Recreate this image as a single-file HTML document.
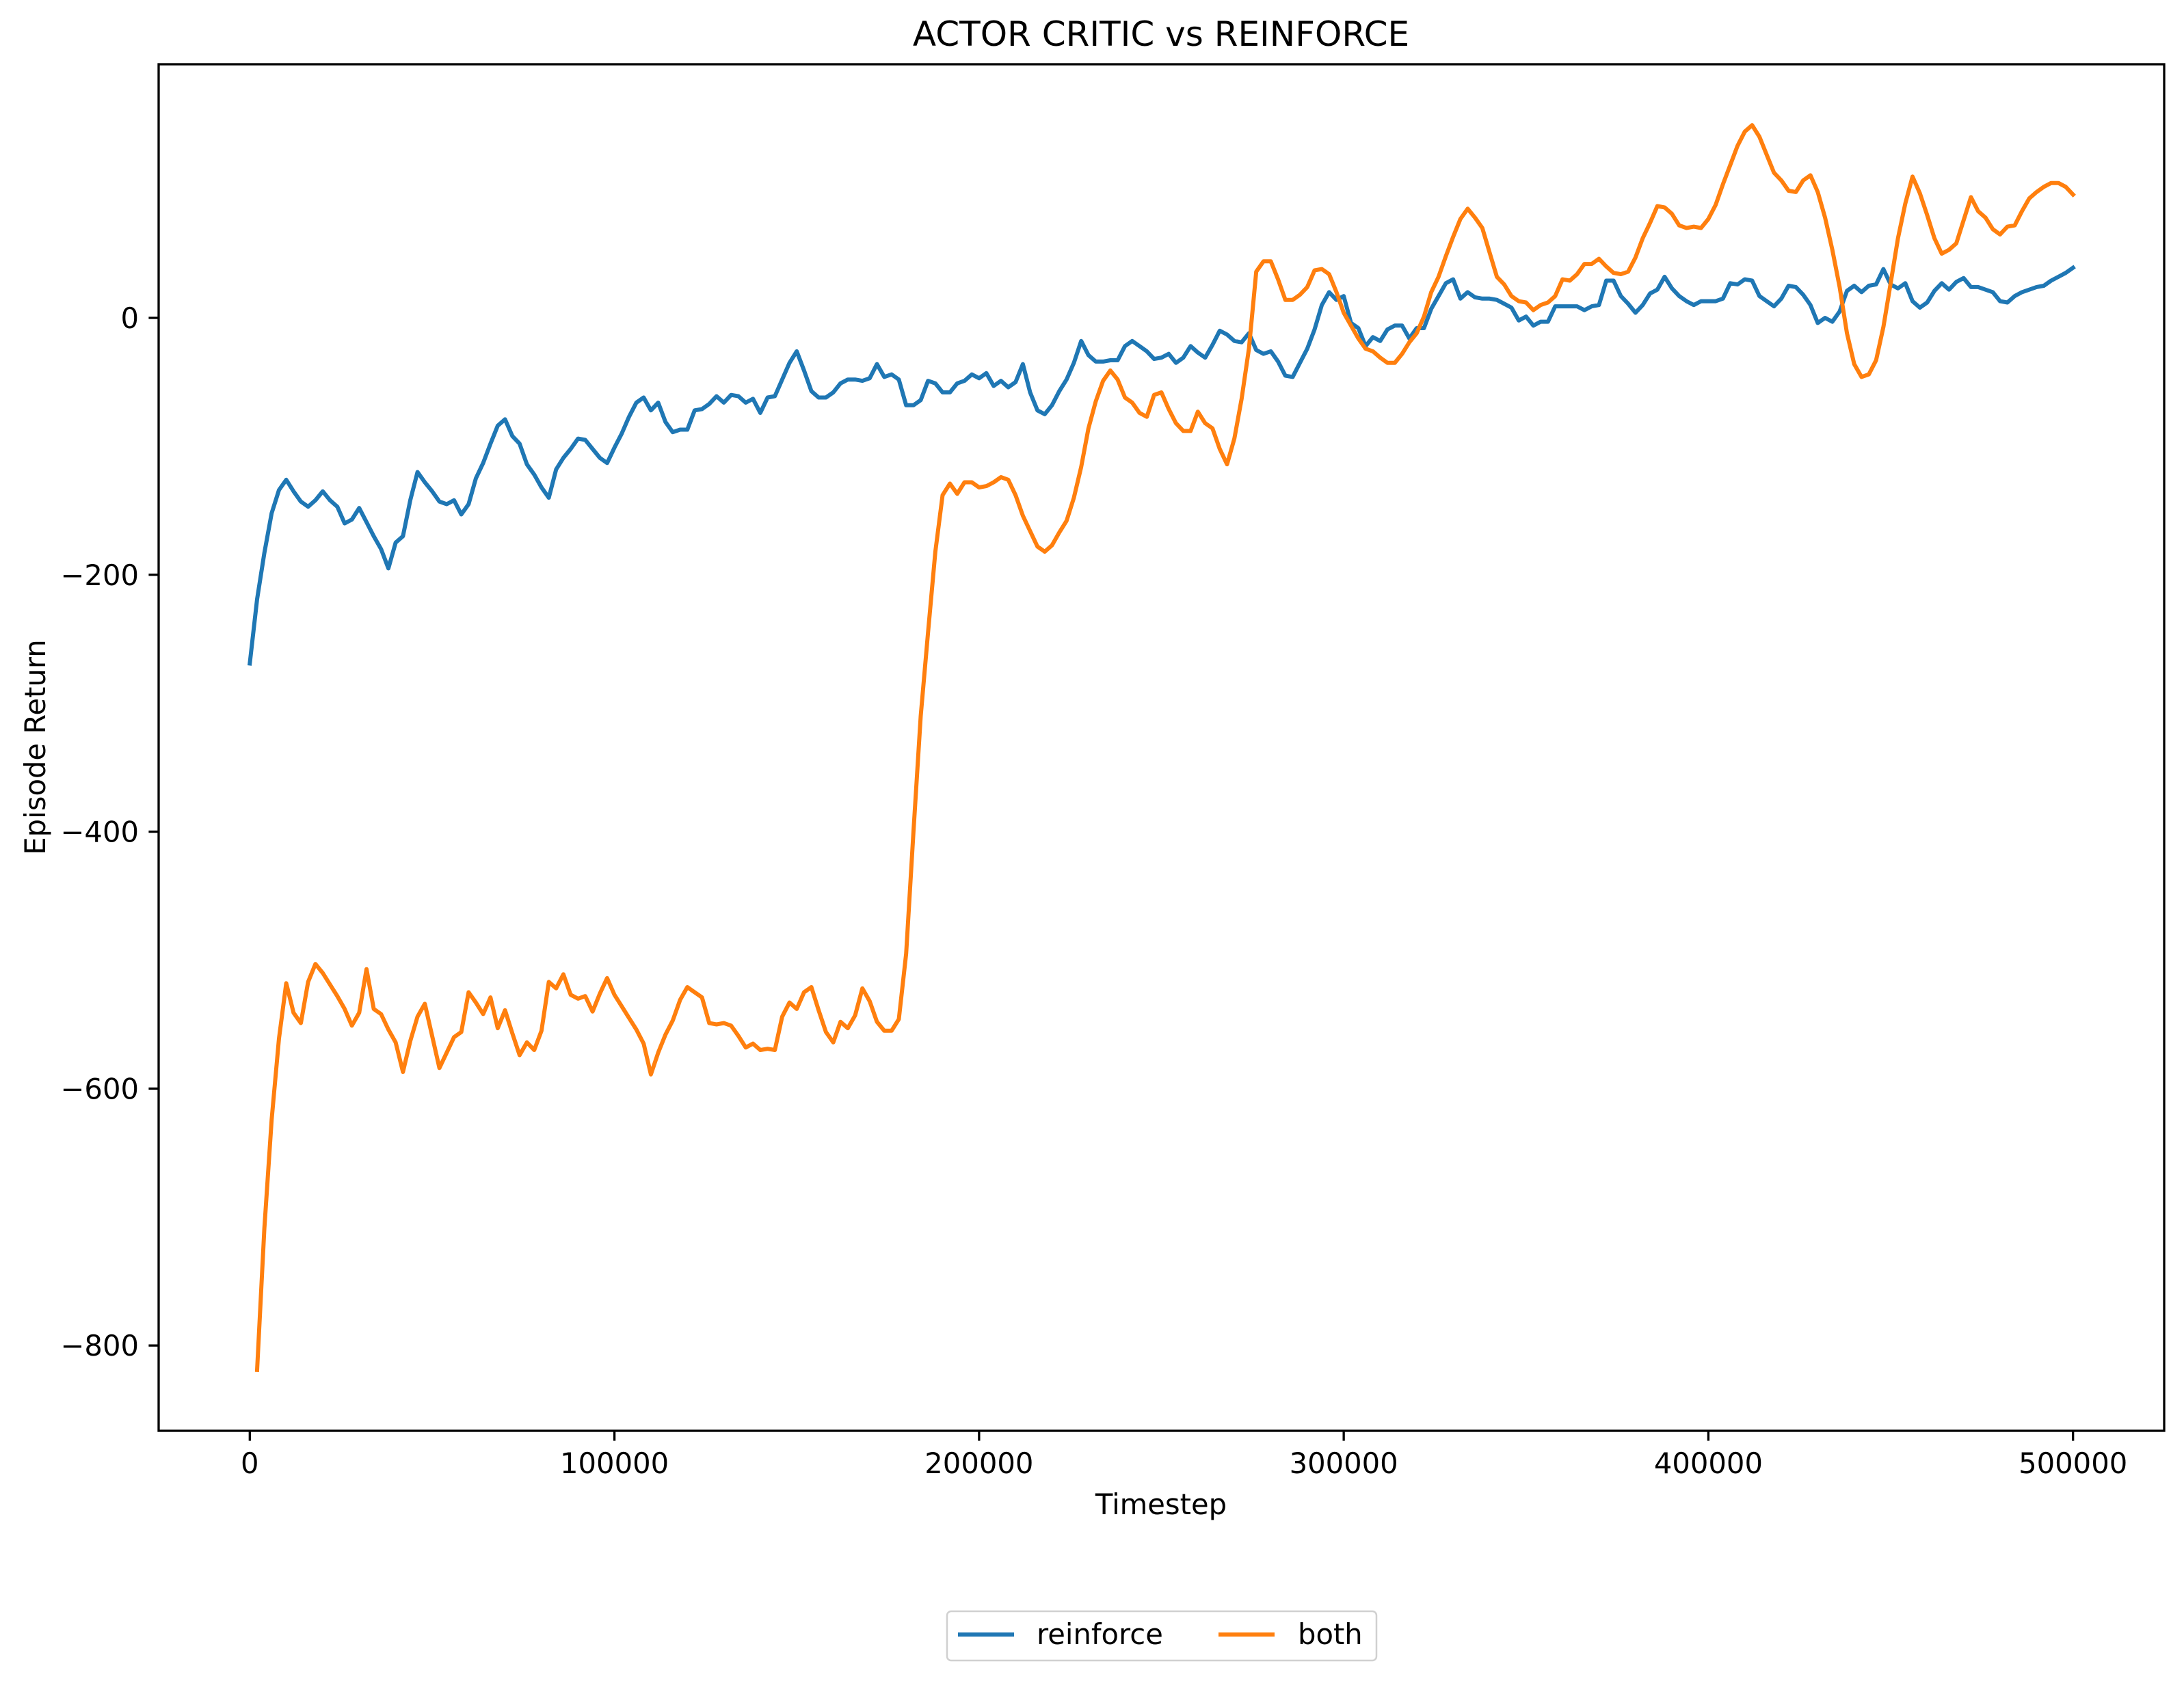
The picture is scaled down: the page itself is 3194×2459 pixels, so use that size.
<!DOCTYPE html>
<html><head><meta charset="utf-8"><title>ACTOR CRITIC vs REINFORCE</title>
<style>
html,body{margin:0;padding:0;background:#fff;}
svg{display:block;font-family:"DejaVu Sans","Liberation Sans",sans-serif;}
</style></head>
<body>
<svg id="chart" width="3194" height="2459" viewBox="0 0 3194 2459" xmlns="http://www.w3.org/2000/svg">
<rect x="0" y="0" width="3194" height="2459" fill="#fff"/>
<text x="1698" y="67" font-size="50" text-anchor="middle" fill="#000">ACTOR CRITIC vs REINFORCE</text>
<g id="plot"></g>
<g id="xticks"></g>
<g id="yticks"></g>
<rect x="232" y="94" width="2933" height="1999" fill="none" stroke="#000" stroke-width="3.3"/>
<text x="1698" y="2215" font-size="41.7" text-anchor="middle" fill="#000">Timestep</text>
<text x="0" y="0" font-size="41.7" text-anchor="middle" fill="#000" transform="translate(66,1093) rotate(-90)">Episode Return</text>
<g>
<rect x="1385" y="2357" width="628" height="72" rx="6" fill="#fff" stroke="#d0d0d0" stroke-width="2.5"/>
<line x1="1401" y1="2391" x2="1483" y2="2391" stroke="#1f77b4" stroke-width="6"/>
<text x="1516" y="2405" font-size="41.7" fill="#000">reinforce</text>
<line x1="1782" y1="2391" x2="1864" y2="2391" stroke="#ff7f0e" stroke-width="6"/>
<text x="1898" y="2405" font-size="41.7" fill="#000">both</text>
</g>
</svg>
<script>
const STEP = 2000;
const reinforceStart = 0;
const reinforceValues = [-269,-219,-183,-152,-134,-126,-135,-143,-147,-142,-135,-142,-147,-160,-157,-148,-159,-170,-180,-195,-175,-170,-142,-120,-128,-135,-143,-145,-142,-153,-145,-125,-113,-98,-84,-79,-92,-98,-114,-122,-132,-140,-118,-109,-102,-94,-95,-102,-109,-113,-101,-90,-77,-66,-62,-72,-66,-81,-89,-87,-87,-72,-71,-67,-61,-66,-60,-61,-66,-63,-74,-62,-61,-48,-35,-26,-41,-57,-62,-62,-58,-51,-48,-48,-49,-47,-36,-46,-44,-48,-68,-68,-64,-49,-51,-58,-58,-51,-49,-44,-47,-43,-53,-49,-54,-50,-36,-58,-72,-75,-68,-57,-48,-35,-18,-29,-34,-34,-33,-33,-22,-18,-22,-26,-32,-31,-28,-35,-31,-22,-27,-31,-21,-10,-13,-18,-19,-12,-25,-28,-26,-34,-45,-46,-35,-24,-9,10,20,14,17,-4,-8,-22,-15,-18,-9,-6,-6,-16,-8,-8,7,17,27,30,15,20,16,15,15,14,11,8,-2,1,-6,-3,-3,9,9,9,9,6,9,10,29,29,17,11,4,10,19,22,32,23,17,13,10,13,13,13,15,27,26,30,29,17,13,9,15,25,24,18,10,-4,0,-3,5,21,25,20,25,26,38,26,23,27,13,8,12,21,27,22,28,31,24,24,22,20,13,12,17,20,22,24,25,29,32,35,39];
const bothStart = 2000;
const bothValues = [-819,-709,-624,-561,-518,-541,-549,-517,-503,-510,-519,-528,-538,-551,-541,-507,-538,-542,-554,-564,-587,-563,-544,-534,-559,-584,-572,-560,-556,-525,-533,-542,-529,-553,-539,-557,-574,-564,-570,-555,-517,-522,-511,-527,-530,-528,-540,-526,-514,-527,-536,-545,-554,-565,-589,-572,-558,-547,-531,-521,-525,-529,-549,-550,-549,-551,-559,-568,-565,-570,-569,-570,-544,-533,-538,-525,-521,-539,-556,-564,-548,-553,-543,-522,-532,-548,-555,-555,-546,-495,-400,-310,-245,-182,-138,-129,-137,-128,-128,-132,-131,-128,-124,-126,-138,-154,-166,-178,-182,-177,-167,-158,-140,-116,-86,-65,-49,-41,-48,-62,-66,-74,-77,-60,-58,-71,-82,-88,-88,-73,-82,-86,-102,-114,-94,-63,-24,36,44,44,30,14,14,18,24,37,38,34,20,4,-6,-16,-24,-26,-31,-35,-35,-28,-19,-12,1,20,32,48,63,77,85,78,70,51,32,26,17,13,12,6,10,12,17,30,29,34,42,42,46,40,35,34,36,47,62,74,87,86,81,72,70,71,70,77,88,104,119,134,145,150,141,127,113,107,99,98,107,111,98,78,53,24,-12,-36,-46,-44,-33,-7,27,62,89,110,97,80,62,50,53,58,76,94,83,78,69,65,71,72,83,93,98,102,105,105,102,96];
const xTickValues = [0,100000,200000,300000,400000,500000];
const xTickLabels = ["0","100000","200000","300000","400000","500000"];
const yTickValues = [0,-200,-400,-600,-800];
const yTickLabels = ["0","\u2212200","\u2212400","\u2212600","\u2212800"];

const NS = "http://www.w3.org/2000/svg";
const AX = {left:232, right:3165, top:94, bottom:2093};
const xMin = -25000, xMax = 525000;
function xs(t){ return AX.left + (t - xMin) / (xMax - xMin) * (AX.right - AX.left); }
function ys(v){ return 465 - v * 1.879; }

function drawLine(values, start, color, name){
  const pts = values.map((v,i)=> xs(start + i*STEP).toFixed(1) + "," + ys(v).toFixed(1)).join(" ");
  const pl = document.createElementNS(NS, "polyline");
  pl.setAttribute("points", pts);
  pl.setAttribute("fill", "none");
  pl.setAttribute("stroke", color);
  pl.setAttribute("stroke-width", "6");
  pl.setAttribute("stroke-linejoin", "round");
  pl.setAttribute("stroke-linecap", "square");
  
  
  document.getElementById("plot").appendChild(pl);
}
drawLine(reinforceValues, reinforceStart, "#1f77b4", "reinforce-line");
drawLine(bothValues, bothStart, "#ff7f0e", "both-line");

const xg = document.getElementById("xticks");
xTickValues.forEach((t,i)=>{
  const x = xs(t);
  const l = document.createElementNS(NS,"line");
  l.setAttribute("x1",x); l.setAttribute("x2",x);
  l.setAttribute("y1",AX.bottom); l.setAttribute("y2",AX.bottom+14.6);
  l.setAttribute("stroke","#000"); l.setAttribute("stroke-width","3.3");
  
  
  xg.appendChild(l);
  const tx = document.createElementNS(NS,"text");
  tx.setAttribute("x",x); tx.setAttribute("y",AX.bottom+62);
  tx.setAttribute("font-size","41.7"); tx.setAttribute("text-anchor","middle");
  tx.textContent = xTickLabels[i];
  
  
  xg.appendChild(tx);
});
const yg = document.getElementById("yticks");
yTickValues.forEach((v,i)=>{
  const y = ys(v);
  const l = document.createElementNS(NS,"line");
  l.setAttribute("x1",AX.left-14.6); l.setAttribute("x2",AX.left);
  l.setAttribute("y1",y); l.setAttribute("y2",y);
  l.setAttribute("stroke","#000"); l.setAttribute("stroke-width","3.3");
  
  
  yg.appendChild(l);
  const tx = document.createElementNS(NS,"text");
  tx.setAttribute("x",AX.left-29); tx.setAttribute("y",y+15);
  tx.setAttribute("font-size","41.7"); tx.setAttribute("text-anchor","end");
  tx.textContent = yTickLabels[i];
  
  
  yg.appendChild(tx);
});
</script>
</body></html>
